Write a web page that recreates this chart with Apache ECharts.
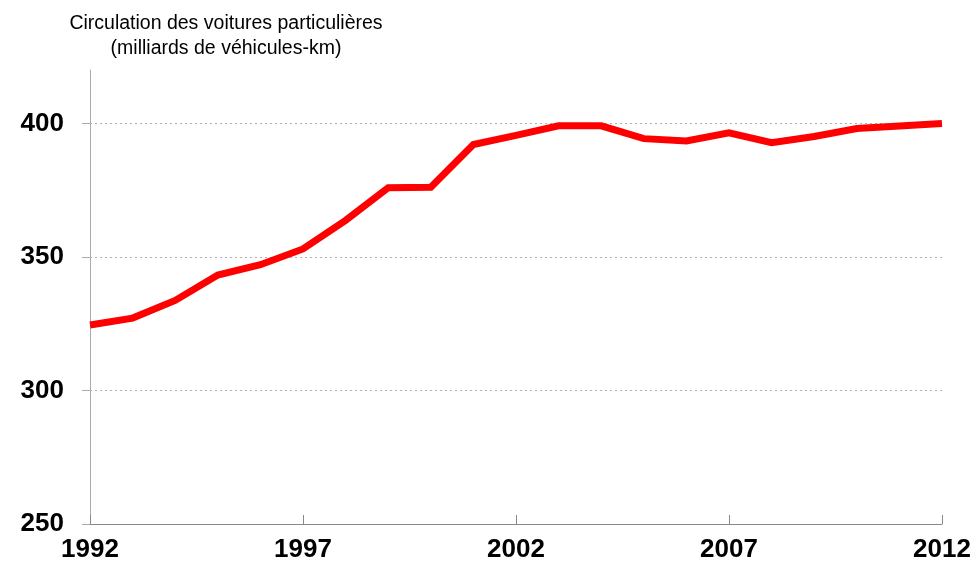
<!DOCTYPE html>
<html>
<head>
<meta charset="utf-8">
<script src="https://cdn.jsdelivr.net/npm/echarts@6/dist/echarts.min.js"></script>
<style>html,body{margin:0;padding:0;background:#fff}#c{width:978px;height:563px}</style>
</head>
<body>
<div id="c"></div>
<script>
const years = ['1992','1993','1994','1995','1996','1997','1998','1999','2000','2001','2002','2003','2004','2005','2006','2007','2008','2009','2010','2011','2012'];
const traffic = [324.5,327.1,333.7,343.2,347.1,353.0,363.7,375.9,376.1,392.1,395.5,399.1,399.1,394.3,393.4,396.5,392.8,395.1,398.1,399.0,400.0];
const yTicks = [250,300,350,400];
const gridValues = [300,350,400];
const titleLines = ['Circulation des voitures particulières','(milliards de véhicules-km)'];

const chart = echarts.init(document.getElementById('c'), null, {renderer:'canvas'});
chart.setOption({
  animation:false,
  backgroundColor:'#fff',
  title:{
    text: titleLines.join('\n'),
    left: 221, top: 6, textAlign:'center',
    textStyle:{fontFamily:'Liberation Sans, Arial, sans-serif',fontSize:19.5,fontWeight:'normal',color:'#000',lineHeight:25}
  },
  grid:{left:90,right:36,top:70,bottom:38,containLabel:false},
  xAxis:{
    type:'category', data:years, boundaryGap:false,
    axisLine:{lineStyle:{color:'#888',width:1}},
    axisTick:{show:true,inside:true,length:9,interval:4,lineStyle:{color:'#888'}},
    axisLabel:{interval:4,margin:13,color:'#000',fontFamily:'Liberation Sans, Arial, sans-serif',fontSize:26,fontWeight:'bold'},
    splitLine:{show:false}
  },
  yAxis:{
    type:'value', min:250, max:420, interval:50,
    axisLine:{show:true,lineStyle:{color:'#aaa',width:1}},
    axisTick:{show:true,length:8,lineStyle:{color:'#aaa'},customValues:yTicks},
    axisLabel:{margin:26,color:'#000',fontFamily:'Liberation Sans, Arial, sans-serif',fontSize:26,fontWeight:'bold',
      customValues:yTicks},
    splitLine:{show:false}
  },
  series:[{
    type:'line', data:traffic, symbol:'none', smooth:false,
    lineStyle:{color:'#ff0000',width:7,join:'miter'},
    z:3,
    markLine:{
      silent:true, symbol:['none','none'], label:{show:false},
      lineStyle:{color:'#b0b0b0',type:[2,3],width:1},
      data: gridValues.map(v=>({yAxis:v})),
      z:1
    }
  }]
});
</script>
</body>
</html>
